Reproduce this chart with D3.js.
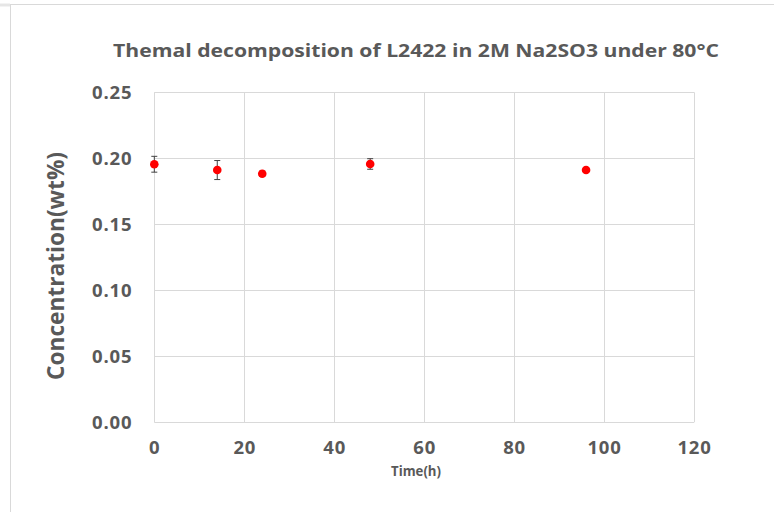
<!DOCTYPE html>
<html><head><meta charset="utf-8">
<script src="https://cdn.jsdelivr.net/npm/d3@7"></script>
<style>body{margin:0;background:#fff;} svg{display:block;}</style>
</head><body>
<svg id="c" width="774" height="512"></svg>
<script>
const timeH = [0, 14, 24, 48, 96];
const concentration = [0.1955, 0.1911, 0.1883, 0.1957, 0.1911];
const errorBar = [0.006, 0.0072, 0.002, 0.004, 0.001];
const xTicks = [0, 20, 40, 60, 80, 100, 120];
const yTicks = [0.00, 0.05, 0.10, 0.15, 0.20, 0.25];
const titleText = "Themal decomposition of L2422 in 2M Na2SO3 under 80\u00B0C";
const xLabel = "Time(h)";
const yLabel = "Concentration(wt%)";

const svg = d3.select("#c");
const font = "'Open Sans', Lato, sans-serif";
const grey = "#595959";
const gridC = "#d9d9d9";

// outer frame
svg.append("rect").attr("x",10.5).attr("y",4.5).attr("width",800).attr("height",600)
  .attr("fill","none").attr("stroke",gridC).attr("stroke-width",1);
svg.append("line").attr("x1",0).attr("x2",10).attr("y1",5).attr("y2",5).attr("stroke","#e6e6e6").attr("stroke-width",3);

const x = d3.scaleLinear().domain([0,120]).range([154.3, 694]);
const y = d3.scaleLinear().domain([0,0.25]).range([422.3, 92.3]);

const g = svg.append("g");
g.selectAll(".gx").data(xTicks).join("line")
  .attr("x1",d=>Math.round(x(d))+0.5).attr("x2",d=>Math.round(x(d))+0.5)
  .attr("y1",y(0.25)).attr("y2",y(0)).attr("stroke",gridC);
g.selectAll(".gy").data(yTicks).join("line")
  .attr("y1",d=>Math.round(y(d))+0.5).attr("y2",d=>Math.round(y(d))+0.5)
  .attr("x1",x(0)).attr("x2",x(120)).attr("stroke",gridC);

const xAxis = svg.append("g").attr("transform",`translate(0,${y(0)})`)
  .call(d3.axisBottom(x).tickValues(xTicks).tickSize(0).tickPadding(19).tickFormat(d3.format("d")));
const yAxis = svg.append("g").attr("transform",`translate(${x(0)},0)`)
  .call(d3.axisLeft(y).tickValues(yTicks).tickSize(0).tickPadding(22).tickFormat(d3.format(".2f")));
[xAxis,yAxis].forEach(a=>{
  a.select(".domain").remove();
  a.selectAll("text").attr("font-family",font).attr("font-weight","bold")
    .attr("font-size","18.5px").attr("letter-spacing","0.8px").attr("fill",grey);
});

const eb = svg.append("g").attr("stroke","#404040").attr("stroke-width",1);
timeH.forEach((t,i)=>{
  const cx = x(t), y1 = y(concentration[i]-errorBar[i]), y2 = y(concentration[i]+errorBar[i]);
  eb.append("line").attr("x1",cx).attr("x2",cx).attr("y1",y1).attr("y2",y2);
  eb.append("line").attr("x1",cx-3).attr("x2",cx+3).attr("y1",y1).attr("y2",y1);
  eb.append("line").attr("x1",cx-3).attr("x2",cx+3).attr("y1",y2).attr("y2",y2);
});

svg.append("g").selectAll("circle").data(timeH).join("circle")
  .attr("cx",d=>x(d)).attr("cy",(d,i)=>y(concentration[i])).attr("r",4.3)
  .attr("fill","#ff0000");

svg.append("text").attr("x",416).attr("y",57).attr("text-anchor","middle")
  .attr("font-family",font).attr("font-weight","bold").attr("font-size","18px")
  .attr("fill",grey).attr("textLength",606).attr("lengthAdjust","spacingAndGlyphs").text(titleText);
svg.append("text").attr("x",416).attr("y",476).attr("text-anchor","middle")
  .attr("font-family",font).attr("font-weight","bold").attr("font-size","14px")
  .attr("fill",grey).attr("textLength",50).attr("lengthAdjust","spacingAndGlyphs").text(xLabel);
svg.append("text").attr("transform","translate(64,266) rotate(-90)").attr("text-anchor","middle")
  .attr("font-family",font).attr("font-weight","bold").attr("font-size","23px")
  .attr("fill",grey).attr("textLength",228).attr("lengthAdjust","spacingAndGlyphs").text(yLabel);
</script>
</body></html>
